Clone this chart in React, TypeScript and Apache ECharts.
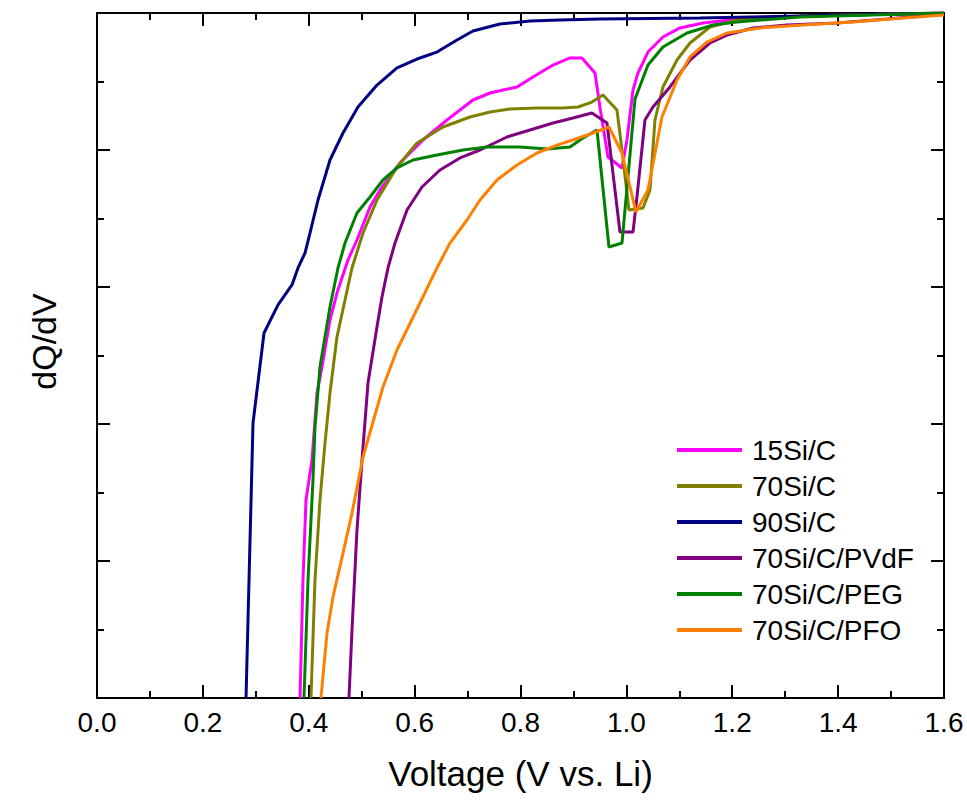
import React, { useEffect, useRef } from "react";
import * as echarts from "echarts";

// Legend / series names and colours
const seriesNames = ["15Si/C", "70Si/C", "90Si/C", "70Si/C/PVdF", "70Si/C/PEG", "70Si/C/PFO"];
const seriesColors = ["#FF00FF", "#808000", "#000080", "#800080", "#008000", "#FF8000"];

// X axis tick range
const xTicks = [0.0, 0.2, 0.4, 0.6, 0.8, 1.0, 1.2, 1.4, 1.6];

// 15Si/C
const si15V = [0.3835, 0.3891, 0.3948, 0.4061, 0.4156, 0.425, 0.4401, 0.4533, 0.4741, 0.4911, 0.5157, 0.5346, 0.5723, 0.6158, 0.6611, 0.7102, 0.7424, 0.7669, 0.7934, 0.8236, 0.8614, 0.8935, 0.9161, 0.9407, 0.9501, 0.9652, 0.9917, 1.0011, 1.0125, 1.0219, 1.0408, 1.0691, 1.1012, 1.1447, 1.1957, 1.3279, 1.6];
const si15Q = [0, 0.861, 1.445, 1.737, 2.226, 2.416, 2.759, 2.956, 3.197, 3.343, 3.584, 3.708, 3.905, 4.073, 4.219, 4.365, 4.416, 4.438, 4.46, 4.533, 4.62, 4.672, 4.672, 4.562, 4.314, 3.949, 3.869, 4.073, 4.438, 4.562, 4.715, 4.825, 4.891, 4.927, 4.949, 4.978, 5.0];

// 70Si/C
const si70V = [0.4042, 0.4118, 0.4212, 0.4307, 0.4401, 0.4533, 0.4685, 0.4817, 0.5025, 0.5289, 0.5667, 0.6045, 0.6536, 0.7046, 0.7424, 0.7801, 0.8311, 0.8803, 0.9086, 0.935, 0.9558, 0.9822, 0.9917, 1.0049, 1.0314, 1.0446, 1.054, 1.0691, 1.0956, 1.1202, 1.1579, 1.2089, 1.3279, 1.6];
const si70Q = [0, 0.861, 1.445, 1.861, 2.226, 2.635, 2.905, 3.139, 3.394, 3.635, 3.876, 4.051, 4.168, 4.241, 4.277, 4.299, 4.307, 4.307, 4.314, 4.35, 4.401, 4.292, 4.0, 3.562, 3.577, 3.708, 4.219, 4.46, 4.657, 4.781, 4.898, 4.949, 4.978, 5.0];

// 90Si/C
const si90V = [0.2815, 0.2947, 0.3155, 0.3419, 0.3683, 0.3797, 0.3929, 0.4023, 0.4175, 0.4401, 0.4647, 0.493, 0.5289, 0.5667, 0.6045, 0.6422, 0.68, 0.7102, 0.7612, 0.8179, 0.8746, 0.9501, 1.139, 1.328, 1.6];
const si90Q = [0, 2.007, 2.664, 2.869, 3.015, 3.139, 3.248, 3.394, 3.635, 3.927, 4.124, 4.314, 4.474, 4.599, 4.664, 4.715, 4.803, 4.869, 4.92, 4.942, 4.949, 4.956, 4.964, 4.978, 5.0];

// 70Si/C/PVdF
const pvdfV = [0.476, 0.4817, 0.4911, 0.5006, 0.5119, 0.5289, 0.5383, 0.5497, 0.5629, 0.5856, 0.6139, 0.6479, 0.6857, 0.7235, 0.7745, 0.8179, 0.8614, 0.8991, 0.935, 0.9634, 0.9879, 1.0125, 1.02, 1.0351, 1.0502, 1.0824, 1.1201, 1.1579, 1.19, 1.2391, 1.3034, 1.3978, 1.4923, 1.6];
const pvdfQ = [0, 0.496, 1.226, 1.737, 2.299, 2.708, 2.927, 3.139, 3.321, 3.562, 3.73, 3.854, 3.942, 4.0, 4.095, 4.146, 4.197, 4.234, 4.27, 4.197, 3.401, 3.401, 3.657, 4.219, 4.314, 4.46, 4.657, 4.781, 4.839, 4.891, 4.912, 4.927, 4.956, 4.993];

// 70Si/C/PEG
const pegV = [0.391, 0.3986, 0.408, 0.4118, 0.4212, 0.4401, 0.4552, 0.4685, 0.4911, 0.5157, 0.5402, 0.5667, 0.5969, 0.6422, 0.6914, 0.7367, 0.799, 0.85, 0.8935, 0.918, 0.9445, 0.9671, 0.9917, 1.0163, 1.0408, 1.0691, 1.1145, 1.1636, 1.2089, 1.3279, 1.6];
const pegQ = [0, 0.861, 1.591, 1.978, 2.416, 2.854, 3.139, 3.321, 3.54, 3.657, 3.781, 3.869, 3.927, 3.964, 4.0, 4.022, 4.022, 4.007, 4.022, 4.088, 4.146, 3.292, 3.321, 4.372, 4.62, 4.752, 4.854, 4.912, 4.934, 4.971, 5.0];

// 70Si/C/PFO
const pfoV = [0.4231, 0.4345, 0.4458, 0.4647, 0.4817, 0.5025, 0.5402, 0.5667, 0.6101, 0.6422, 0.6668, 0.6989, 0.7235, 0.7556, 0.7934, 0.8311, 0.8689, 0.8991, 0.9369, 0.9671, 0.9917, 1.0181, 1.0408, 1.0672, 1.0956, 1.1201, 1.1522, 1.19, 1.2524, 1.3336, 1.428, 1.5225, 1.6];
const pfoQ = [0, 0.474, 0.737, 1.058, 1.35, 1.759, 2.27, 2.54, 2.883, 3.139, 3.321, 3.489, 3.635, 3.781, 3.891, 3.978, 4.036, 4.073, 4.124, 4.168, 3.978, 3.547, 3.708, 4.241, 4.511, 4.679, 4.788, 4.854, 4.891, 4.912, 4.934, 4.964, 4.985];

const allV = [si15V, si70V, si90V, pvdfV, pegV, pfoV];
const allQ = [si15Q, si70Q, si90Q, pvdfQ, pegQ, pfoQ];

const FONT = "'Liberation Sans', Arial, Helvetica, sans-serif";

export default function App() {
  const ref = useRef<HTMLDivElement>(null);

  useEffect(() => {
    if (!ref.current) return;
    const chart = echarts.init(ref.current, null, { renderer: "svg" });

    const lineStyle = { color: "#000", width: 2 };
    const tick = { show: true, inside: true, length: 13, lineStyle };
    const minor = { show: true, splitNumber: 2, length: 7, lineStyle };

    const xMin = xTicks[0];
    const xMax = xTicks[xTicks.length - 1];
    const xInterval = xTicks[1] - xTicks[0];

    const series = seriesNames.map((name, i) => ({
      name,
      type: "line",
      data: allV[i].map((v, k) => [v, allQ[i][k]]),
      showSymbol: false,
      symbol: "none",
      clip: true,
      lineStyle: { color: seriesColors[i], width: 3 },
      itemStyle: { color: seriesColors[i] },
    }));

    chart.setOption({
      animation: false,
      backgroundColor: "#fff",
      grid: { left: 97, right: 23, top: 13, bottom: 102, containLabel: false },
      legend: {
        data: seriesNames,
        orient: "vertical",
        left: 677,
        top: 436,
        padding: 0,
        icon: "rect",
        itemWidth: 65,
        itemHeight: 4,
        itemGap: 8,
        textStyle: { fontSize: 28, color: "#000", fontFamily: FONT, padding: [0, 0, 0, 5] },
      },
      xAxis: [
        {
          type: "value",
          position: "bottom",
          min: xMin,
          max: xMax,
          interval: xInterval,
          axisLine: { show: true, onZero: false, lineStyle },
          axisTick: tick,
          minorTick: minor,
          splitLine: { show: false },
          minorSplitLine: { show: false },
          axisLabel: {
            formatter: (v: number) => v.toFixed(1),
            fontSize: 28,
            color: "#000",
            fontFamily: FONT,
            margin: 10,
          },
          name: "Voltage (V vs. Li)",
          nameLocation: "middle",
          nameGap: 58,
          nameTextStyle: { fontSize: 35, color: "#000", fontFamily: FONT },
        },
        {
          type: "value",
          position: "top",
          min: xMin,
          max: xMax,
          interval: xInterval,
          axisLine: { show: true, onZero: false, lineStyle },
          axisTick: tick,
          minorTick: minor,
          splitLine: { show: false },
          axisLabel: { show: false },
        },
      ],
      yAxis: [
        {
          type: "value",
          position: "left",
          min: 0,
          max: 5,
          interval: 1,
          axisLine: { show: true, onZero: false, lineStyle },
          axisTick: tick,
          minorTick: minor,
          splitLine: { show: false },
          axisLabel: { show: false },
          name: "dQ/dV",
          nameLocation: "middle",
          nameRotate: 90,
          nameGap: 36,
          nameTextStyle: { fontSize: 34, color: "#000", fontFamily: FONT, padding: [0, 0, 0, 28] },
        },
        {
          type: "value",
          position: "right",
          min: 0,
          max: 5,
          interval: 1,
          axisLine: { show: true, onZero: false, lineStyle },
          axisTick: tick,
          minorTick: minor,
          splitLine: { show: false },
          axisLabel: { show: false },
        },
      ],
      series,
    });

    return () => chart.dispose();
  }, []);

  return (
    <div
      ref={ref}
      style={{ position: "absolute", left: 0, top: 0, width: 967, height: 800 }}
    />
  );
}
